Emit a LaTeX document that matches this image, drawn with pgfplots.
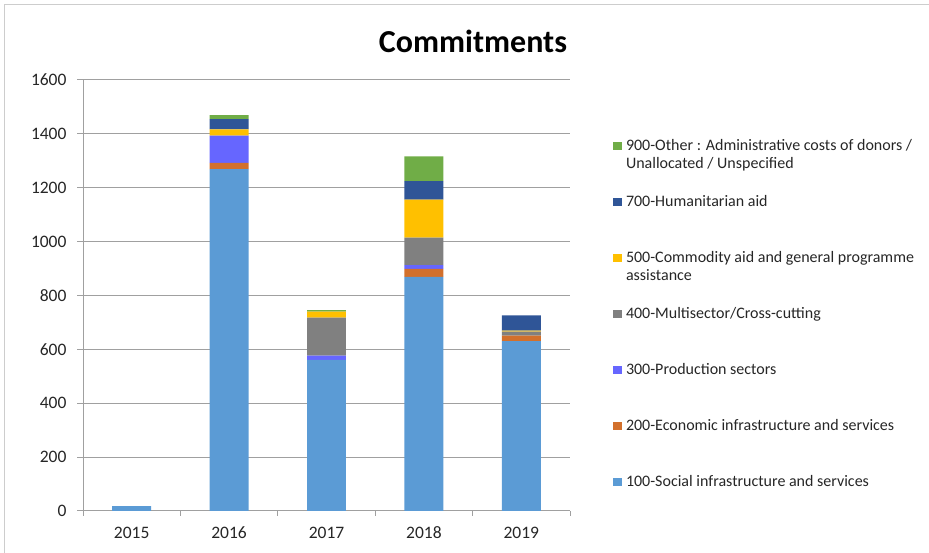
\documentclass[border=0pt]{standalone}
\usepackage{fontspec}
\setmainfont{Carlito}
\usepackage{pgfplots}
\usepackage{pgfplotstable}
\pgfplotsset{compat=1.18}
\definecolor{c100}{RGB}{91,155,213}
\definecolor{c200}{RGB}{210,112,44}
\definecolor{c300}{RGB}{102,102,255}
\definecolor{c400}{RGB}{128,128,128}
\definecolor{c500}{RGB}{255,192,0}
\definecolor{c700}{RGB}{47,85,151}
\definecolor{c900}{RGB}{112,173,71}
\definecolor{gridc}{RGB}{160,160,160}
\definecolor{framec}{RGB}{205,205,205}

\pgfplotstableread{
x s100 s200 s300 s400 s500 s700 s900
0 18 0 0 0 0 0 0
1 1269 23 101 0 24 38 15
2 561 0 16 141 22 0 6
3 869 30 14 102 141 69 91
4 631 20 0 15 4 56 0
}\data

\begin{document}
\begin{tikzpicture}[x=1bp,y=1bp]
\useasboundingbox (0,0) rectangle (929,553);
\draw[framec, line width=1.2bp] (4.5,0) -- (4.5,548.5) -- (929,548.5);
\node[font=\fontsize{32bp}{38bp}\selectfont\bfseries, anchor=base, inner sep=0pt] at (473,500.4) {Commitments};
\begin{axis}[
 at={(83bp,42bp)}, anchor=south west,
 scale only axis, width=487bp, height=431bp,
 ybar stacked, bar width=0.4,
 xmin=-0.5, xmax=4.5, ymin=0, ymax=1600,
 xtick={0,...,4}, xticklabels={2015,2016,2017,2018,2019},
 minor xtick={-0.5,0.5,...,4.5},
 ytick={0,200,...,1600},
 axis x line*=bottom, axis y line*=left,
 axis line style={gridc, line width=1bp},
 ymajorgrids, grid style={gridc, line width=1bp},
 tick align=outside,
 major x tick style={draw=none},
 minor x tick style={gridc, line width=1bp},
 ytick style={gridc, line width=1bp},
 major tick length=6bp, minor tick length=5bp,
 /pgf/number format/assume math mode=true,
 /pgf/number format/1000 sep={},
 ticklabel style={font=\fontsize{17.5bp}{20bp}\selectfont, text=black!85},
 xticklabel style={text height=11bp, text depth=0pt, yshift=-7bp},
 yticklabel style={xshift=-7bp},
 legend style={at={(1.0883,0.863)}, anchor=north west, draw=none, fill=none,
   inner sep=0pt, row sep=42bp, column sep=4.5bp,
   font=\fontsize{16bp}{18.5bp}\selectfont, text=black!85,
   nodes={inner sep=0pt, text height=11bp, text depth=3bp, anchor=base west}},
 reverse legend,
 legend image code/.code={\fill[#1] (0bp,0bp) rectangle (8.3bp,8.3bp);},
]
\addplot[fill=c100, draw=none] table[x=x, y=s100] {\data};
\addlegendentry{100-Social infrastructure and services}
\addplot[fill=c200, draw=none] table[x=x, y=s200] {\data};
\addlegendentry{200-Economic infrastructure and services}
\addplot[fill=c300, draw=none] table[x=x, y=s300] {\data};
\addlegendentry{300-Production sectors}
\addplot[fill=c400, draw=none] table[x=x, y=s400] {\data};
\addlegendentry{400-Multisector/Cross-cutting}
\addplot[fill=c500, draw=none] table[x=x, y=s500] {\data};
\addlegendentry{\parbox[t]{300bp}{500-Commodity aid and general programme\\assistance}}
\addplot[fill=c700, draw=none] table[x=x, y=s700] {\data};
\addlegendentry{700-Humanitarian aid}
\addplot[fill=c900, draw=none] table[x=x, y=s900] {\data};
\addlegendentry{\parbox[t]{300bp}{900-Other : Administrative costs of donors /\\Unallocated / Unspecified}}
\end{axis}
\end{tikzpicture}
\end{document}
